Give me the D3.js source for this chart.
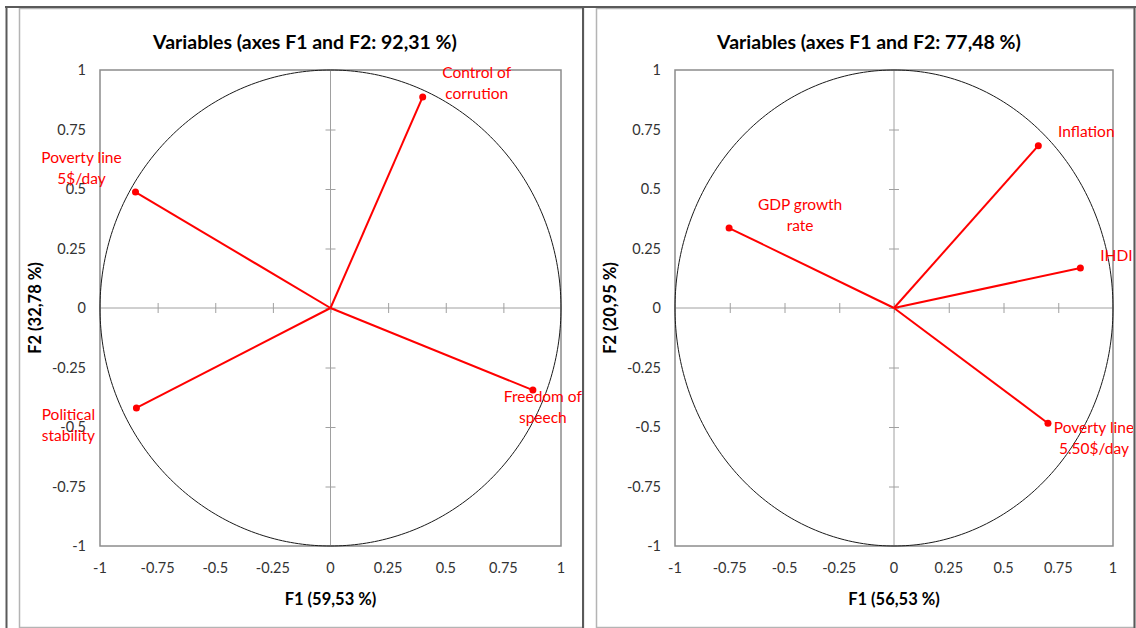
<!DOCTYPE html>
<html>

<head>
  <meta charset="utf-8">
  <style>
    body { margin: 0; background: #fff; }
    svg { display: block; font-family: Lato, "Liberation Sans", sans-serif; }
  </style>
</head>

<body>
  <script src="https://d3js.org/d3.v7.min.js"></script>
  <script>
    // tick values shared by both axes
    var tickValues = [-1, -0.75, -0.5, -0.25, 0, 0.25, 0.5, 0.75, 1];

    // left plot
    var leftTitle = "Variables (axes F1 and F2: 92,31 %)";
    var leftXTitle = "F1 (59,53 %)";
    var leftYTitle = "F2 (32,78 %)";
    var leftNames = [["Control of", "corrution"], ["Poverty line", "5$/day"], ["Political", "stability"], ["Freedom of", "speech"]];
    var leftF1 = [0.40, -0.846, -0.842, 0.878];
    var leftF2 = [0.887, 0.487, -0.42, -0.345];

    // right plot
    var rightTitle = "Variables (axes F1 and F2: 77,48 %)";
    var rightXTitle = "F1 (56,53 %)";
    var rightYTitle = "F2 (20,95 %)";
    var rightNames = [["GDP growth", "rate"], ["Inflation"], ["IHDI"], ["Poverty line", "5.50$/day"]];
    var rightF1 = [-0.753, 0.659, 0.851, 0.703];
    var rightF2 = [0.336, 0.682, 0.168, -0.484];

    // label placement relative to each point (layout only)
    var leftLabelOffsets = [[54, -24], [-54, -35], [-68, 7], [10, 6]];
    var rightLabelOffsets = [[71, -24], [48, -14], [36, -13], [46, 4]];

    var svg = d3.select("body").append("svg")
      .attr("width", 1136)
      .attr("height", 628);

    var panels = [{
      id: "l",
      frame: [19, 8, 583, 627],
      plot: [100, 70, 561, 546],
      title: leftTitle, xTitle: leftXTitle, yTitle: leftYTitle,
      names: leftNames, f1: leftF1, f2: leftF2, offsets: leftLabelOffsets,
      yTitleX: 35
    }, {
      id: "r",
      frame: [596, 8, 1134, 627],
      plot: [675, 70, 1113, 546],
      title: rightTitle, xTitle: rightXTitle, yTitle: rightYTitle,
      names: rightNames, f1: rightF1, f2: rightF2, offsets: rightLabelOffsets,
      yTitleX: 610
    }];

    panels.forEach(drawPanel);

    // outer dark frame lines
    var dark = svg.append("g").attr("stroke", "#5a5a5a").attr("stroke-width", 2);
    dark.append("line").attr("x1", 5).attr("x2", 1136).attr("y1", 7).attr("y2", 7);
    [6.5, 583, 1134.5].forEach(function(x) {
      dark.append("line").attr("x1", x).attr("x2", x).attr("y1", 7).attr("y2", 628);
    });

    function drawPanel(p) {
      var g = svg.append("g");

      // chart frame
      g.append("rect")
        .attr("x", p.frame[0] + 0.5)
        .attr("y", p.frame[1] + 0.5)
        .attr("width", p.frame[2] - p.frame[0])
        .attr("height", p.frame[3] - p.frame[1])
        .attr("fill", "#fff")
        .attr("stroke", "#b4b4b4")
        .attr("stroke-width", 1.5);

      var x = d3.scaleLinear().domain([-1, 1]).range([p.plot[0], p.plot[2]]);
      var y = d3.scaleLinear().domain([-1, 1]).range([p.plot[3], p.plot[1]]);

      // title
      g.append("text")
        .attr("x", (p.frame[0] + p.frame[2]) / 2 + 4)
        .attr("y", 49)
        .attr("text-anchor", "middle")
        .attr("font-weight", "bold")
        .attr("font-size", 19.5)
        .attr("fill", "#000")
        .text(p.title);

      // plot area border
      g.append("rect")
        .attr("x", x(-1))
        .attr("y", y(1))
        .attr("width", x(1) - x(-1))
        .attr("height", y(-1) - y(1))
        .attr("fill", "none")
        .attr("stroke", "#8c8c8c")
        .attr("stroke-width", 1.5);

      // axes through origin
      var xAxis = d3.axisBottom(x).tickValues(tickValues.filter(function(d) { return Math.abs(d) < 1; }))
        .tickSizeInner(5).tickSizeOuter(0).tickFormat("");
      var xa = g.append("g").attr("transform", "translate(0," + y(0) + ")").call(xAxis);
      xa.selectAll(".tick line").attr("y1", -5);
      var yAxis = d3.axisLeft(y).tickValues(tickValues.filter(function(d) { return Math.abs(d) < 1; }))
        .tickSizeInner(5).tickSizeOuter(0).tickFormat("");
      var ya = g.append("g").attr("transform", "translate(" + x(0) + ",0)").call(yAxis);
      ya.selectAll(".tick line").attr("x1", 5);
      g.selectAll(".domain, .tick line").attr("stroke", "#a0a0a0").attr("stroke-width", 1);
      xa.select(".domain").attr("d", "M" + x(-1) + ",0H" + x(1));
      ya.select(".domain").attr("d", "M0," + y(-1) + "V" + y(1));

      // tick labels at the plot edges
      g.selectAll(".xl").data(tickValues).enter().append("text")
        .attr("x", function(d) { return x(d); })
        .attr("y", y(-1) + 27)
        .attr("text-anchor", "middle")
        .attr("font-size", 14.5)
        .attr("fill", "#333")
        .text(function(d) { return d; });
      g.selectAll(".yl").data(tickValues).enter().append("text")
        .attr("x", x(-1) - 14)
        .attr("y", function(d) { return y(d); })
        .attr("dy", "0.35em")
        .attr("text-anchor", "end")
        .attr("font-size", 14.5)
        .attr("fill", "#333")
        .text(function(d) { return d; });

      // axis titles
      g.append("text")
        .attr("x", x(0))
        .attr("y", 605)
        .attr("text-anchor", "middle")
        .attr("font-weight", "bold")
        .attr("font-size", 16.5)
        .text(p.xTitle);
      g.append("text")
        .attr("transform", "translate(" + (p.yTitleX + 6) + "," + y(0) + ") rotate(-90)")
        .attr("text-anchor", "middle")
        .attr("font-weight", "bold")
        .attr("font-size", 16.5)
        .text(p.yTitle);

      // correlation circle
      var circle = d3.line()
        .x(function(a) { return x(Math.cos(a)); })
        .y(function(a) { return y(Math.sin(a)); });
      g.append("path")
        .attr("d", circle(d3.range(0, 361).map(function(d) { return d * Math.PI / 180; })))
        .attr("fill", "none")
        .attr("stroke", "#1a1a1a")
        .attr("stroke-width", 1);

      var data = p.names.map(function(n, i) {
        return { name: n, f1: p.f1[i], f2: p.f2[i], off: p.offsets[i] };
      });

      // vectors
      g.selectAll(".vec").data(data).enter().append("line")
        .attr("x1", x(0)).attr("y1", y(0))
        .attr("x2", function(d) { return x(d.f1); })
        .attr("y2", function(d) { return y(d.f2); })
        .attr("stroke", "#ff0000")
        .attr("stroke-width", 2);
      g.selectAll(".pt").data(data).enter().append("circle")
        .attr("cx", function(d) { return x(d.f1); })
        .attr("cy", function(d) { return y(d.f2); })
        .attr("r", 3.5)
        .attr("fill", "#ff0000");

      // labels, clipped to the chart frame
      svg.append("clipPath").attr("id", "clip-" + p.id)
        .append("rect")
        .attr("x", p.frame[0]).attr("y", p.frame[1])
        .attr("width", p.frame[2] - p.frame[0] - 1).attr("height", p.frame[3] - p.frame[1]);
      var labels = g.append("g").attr("clip-path", "url(#clip-" + p.id + ")");
      var lbl = labels.selectAll(".lbl").data(data).enter().append("text")
        .attr("text-anchor", "middle")
        .attr("font-size", 15.5)
        .attr("fill", "#ff0000");
      lbl.selectAll("tspan").data(function(d) {
        return d.name.map(function(t, k) { return { t: t, k: k, d: d }; });
      }).enter().append("tspan")
        .attr("x", function(s) { return x(s.d.f1) + s.d.off[0]; })
        .attr("y", function(s) { return y(s.d.f2) + s.d.off[1] + s.k * 21 + 5.5; })
        .text(function(s) { return s.t; });
    }
  </script>
</body>

</html>
